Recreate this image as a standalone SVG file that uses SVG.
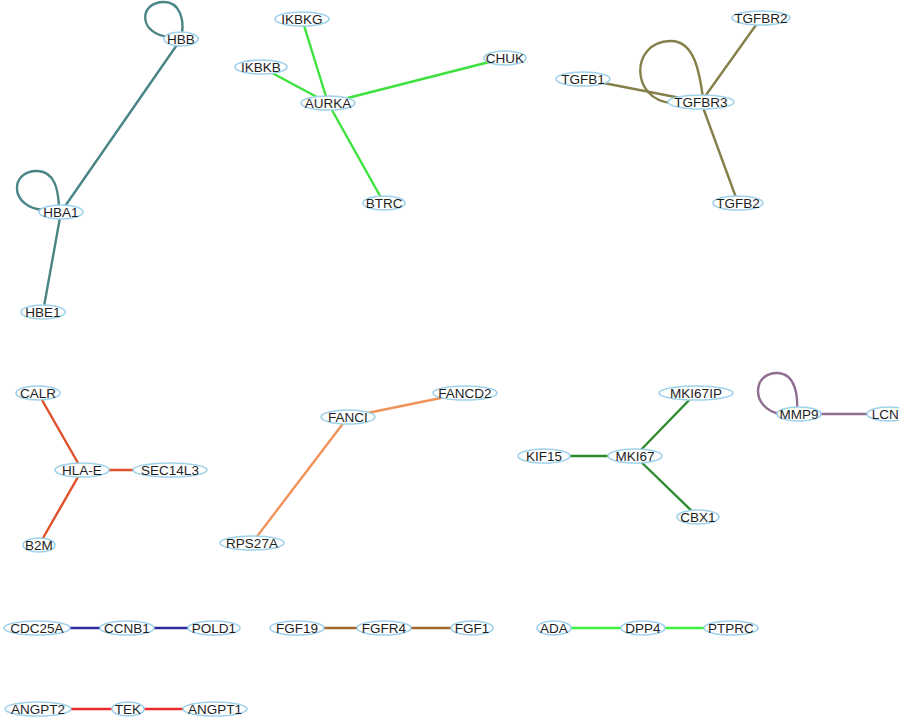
<svg xmlns="http://www.w3.org/2000/svg" width="899" height="717" viewBox="0 0 899 717">
  <style>
    .n ellipse { fill: #ffffff; stroke: #9fd2ea; stroke-width: 1.6; }
    .n text { font-family: "Liberation Sans", Arial, sans-serif; font-size: 13.5px; fill: #1e1e1e; text-anchor: middle; dominant-baseline: central; }
    .e { fill: none; stroke-width: 2.4; stroke-linecap: round; }
    .hb { stroke: #4a8585; }
    .ak { stroke: #3ee23e; }
    .tg { stroke: #85804a; }
    .hl { stroke: #e0502a; }
    .fa { stroke: #f0925a; }
    .mk { stroke: #2e8b2e; }
    .mm { stroke: #8f6f8f; }
    .cd { stroke: #2c2ca0; }
    .fg { stroke: #a5642e; }
    .ad { stroke: #3ef03e; }
    .an { stroke: #ee2a2a; }
  </style>
  <rect width="899" height="717" fill="#ffffff"/>

  <g id="edges">
    <!-- hemoglobin cluster -->
    <path class="e hb" d="M170,37 C138,35 138,2 164,2 C180,2 184,20 182,33"/>
    <path class="e hb" d="M44,210 C9,208 9,170 38,171 C55,172 58,190 59,206"/>
    <line class="e hb" x1="61" y1="212" x2="181" y2="39"/>
    <line class="e hb" x1="61" y1="212" x2="43" y2="312"/>
    <!-- AURKA cluster -->
    <line class="e ak" x1="328" y1="103" x2="302" y2="19"/>
    <line class="e ak" x1="328" y1="103" x2="261" y2="67"/>
    <line class="e ak" x1="328" y1="103" x2="505" y2="58"/>
    <line class="e ak" x1="328" y1="103" x2="384" y2="203"/>
    <!-- TGF-beta cluster -->
    <path class="e tg" d="M672,103 C630,100 630,42 670,41 C695,40 700,75 703,98"/>
    <line class="e tg" x1="701" y1="102" x2="583" y2="79"/>
    <line class="e tg" x1="701" y1="102" x2="761" y2="18"/>
    <line class="e tg" x1="701" y1="102" x2="738" y2="203"/>
    <!-- HLA-E cluster -->
    <line class="e hl" x1="82" y1="470" x2="38" y2="393"/>
    <line class="e hl" x1="82" y1="470" x2="170" y2="470"/>
    <line class="e hl" x1="82" y1="470" x2="39" y2="545"/>
    <!-- FANCI cluster -->
    <line class="e fa" x1="348" y1="417" x2="465" y2="393"/>
    <line class="e fa" x1="348" y1="417" x2="252" y2="543"/>
    <!-- MKI67 cluster -->
    <line class="e mk" x1="635" y1="456" x2="544" y2="456"/>
    <line class="e mk" x1="635" y1="456" x2="696" y2="393"/>
    <line class="e mk" x1="635" y1="456" x2="698" y2="517"/>
    <!-- MMP9 pair -->
    <path class="e mm" d="M780,414 C750,408 752,372 778,373 C795,374 798,395 797,410"/>
    <line class="e mm" x1="799" y1="414" x2="888" y2="414"/>
    <!-- chains -->
    <line class="e cd" x1="37" y1="628" x2="214" y2="628"/>
    <line class="e fg" x1="297" y1="628" x2="472" y2="628"/>
    <line class="e ad" x1="554" y1="628" x2="731" y2="628"/>
    <line class="e an" x1="38" y1="709" x2="215" y2="709"/>
  </g>

  <g id="HBB" class="n"><ellipse cx="181" cy="39" rx="17" ry="7"/><text x="181" y="39">HBB</text></g>
  <g id="HBA1" class="n"><ellipse cx="61" cy="212" rx="22" ry="7"/><text x="61" y="212">HBA1</text></g>
  <g id="HBE1" class="n"><ellipse cx="43" cy="312" rx="22" ry="7"/><text x="43" y="312">HBE1</text></g>

  <g id="IKBKG" class="n"><ellipse cx="302" cy="19" rx="27" ry="7"/><text x="302" y="19">IKBKG</text></g>
  <g id="IKBKB" class="n"><ellipse cx="261" cy="67" rx="26" ry="7"/><text x="261" y="67">IKBKB</text></g>
  <g id="CHUK" class="n"><ellipse cx="505" cy="58" rx="21" ry="7"/><text x="505" y="58">CHUK</text></g>
  <g id="AURKA" class="n"><ellipse cx="328" cy="103" rx="27" ry="7"/><text x="328" y="103">AURKA</text></g>
  <g id="BTRC" class="n"><ellipse cx="384" cy="203" rx="21" ry="7"/><text x="384" y="203">BTRC</text></g>

  <g id="TGFBR2" class="n"><ellipse cx="761" cy="18" rx="29" ry="7"/><text x="761" y="18">TGFBR2</text></g>
  <g id="TGFB1" class="n"><ellipse cx="583" cy="79" rx="27" ry="7"/><text x="583" y="79">TGFB1</text></g>
  <g id="TGFBR3" class="n"><ellipse cx="701" cy="102" rx="33" ry="7"/><text x="701" y="102">TGFBR3</text></g>
  <g id="TGFB2" class="n"><ellipse cx="738" cy="203" rx="25" ry="7"/><text x="738" y="203">TGFB2</text></g>

  <g id="CALR" class="n"><ellipse cx="38" cy="393" rx="22" ry="7"/><text x="38" y="393">CALR</text></g>
  <g id="HLA-E" class="n"><ellipse cx="82" cy="470" rx="27" ry="7"/><text x="82" y="470">HLA-E</text></g>
  <g id="SEC14L3" class="n"><ellipse cx="170" cy="470" rx="37" ry="7"/><text x="170" y="470">SEC14L3</text></g>
  <g id="B2M" class="n"><ellipse cx="39" cy="545" rx="16" ry="7"/><text x="39" y="545">B2M</text></g>

  <g id="FANCD2" class="n"><ellipse cx="465" cy="393" rx="32" ry="7"/><text x="465" y="393">FANCD2</text></g>
  <g id="FANCI" class="n"><ellipse cx="348" cy="417" rx="27" ry="7"/><text x="348" y="417">FANCI</text></g>
  <g id="RPS27A" class="n"><ellipse cx="252" cy="543" rx="32" ry="7"/><text x="252" y="543">RPS27A</text></g>

  <g id="MKI67IP" class="n"><ellipse cx="696" cy="393" rx="37" ry="7"/><text x="696" y="393">MKI67IP</text></g>
  <g id="KIF15" class="n"><ellipse cx="544" cy="456" rx="26" ry="7"/><text x="544" y="456">KIF15</text></g>
  <g id="MKI67" class="n"><ellipse cx="635" cy="456" rx="27" ry="7"/><text x="635" y="456">MKI67</text></g>
  <g id="CBX1" class="n"><ellipse cx="698" cy="517" rx="21" ry="7"/><text x="698" y="517">CBX1</text></g>

  <g id="MMP9" class="n"><ellipse cx="799" cy="414" rx="22" ry="7"/><text x="799" y="414">MMP9</text></g>
  <g id="LCN2" class="n"><ellipse cx="889" cy="414" rx="22" ry="7"/><text x="889" y="414">LCN2</text></g>

  <g id="CDC25A" class="n"><ellipse cx="37" cy="628" rx="33" ry="7"/><text x="37" y="628">CDC25A</text></g>
  <g id="CCNB1" class="n"><ellipse cx="127" cy="628" rx="27" ry="7"/><text x="127" y="628">CCNB1</text></g>
  <g id="POLD1" class="n"><ellipse cx="214" cy="628" rx="26" ry="7"/><text x="214" y="628">POLD1</text></g>

  <g id="FGF19" class="n"><ellipse cx="297" cy="628" rx="27" ry="7"/><text x="297" y="628">FGF19</text></g>
  <g id="FGFR4" class="n"><ellipse cx="384" cy="628" rx="27" ry="7"/><text x="384" y="628">FGFR4</text></g>
  <g id="FGF1" class="n"><ellipse cx="472" cy="628" rx="21" ry="7"/><text x="472" y="628">FGF1</text></g>

  <g id="ADA" class="n"><ellipse cx="554" cy="628" rx="17" ry="7"/><text x="554" y="628">ADA</text></g>
  <g id="DPP4" class="n"><ellipse cx="643" cy="628" rx="22" ry="7"/><text x="643" y="628">DPP4</text></g>
  <g id="PTPRC" class="n"><ellipse cx="731" cy="628" rx="27" ry="7"/><text x="731" y="628">PTPRC</text></g>

  <g id="ANGPT2" class="n"><ellipse cx="38" cy="709" rx="33" ry="7"/><text x="38" y="709">ANGPT2</text></g>
  <g id="TEK" class="n"><ellipse cx="128" cy="709" rx="16" ry="7"/><text x="128" y="709">TEK</text></g>
  <g id="ANGPT1" class="n"><ellipse cx="215" cy="709" rx="32" ry="7"/><text x="215" y="709">ANGPT1</text></g>
</svg>
